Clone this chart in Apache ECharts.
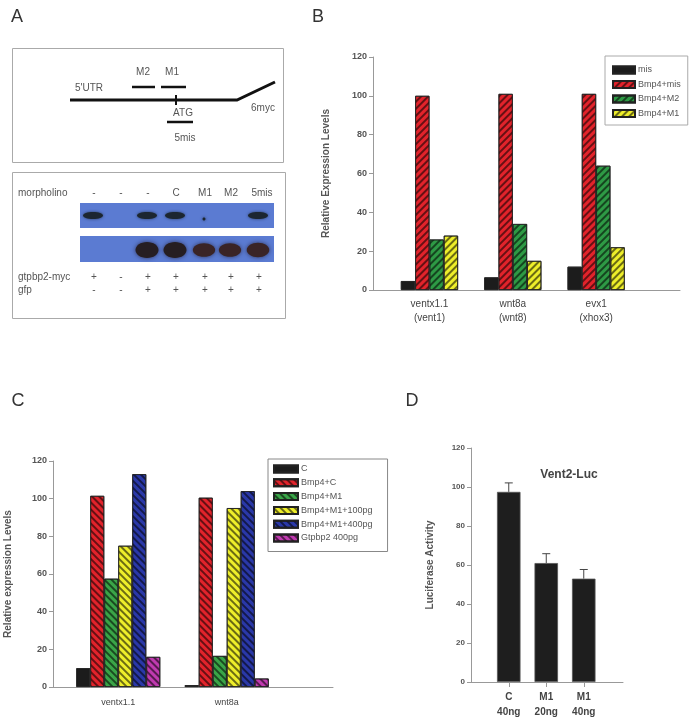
<!DOCTYPE html>
<html><head><meta charset="utf-8">
<script src="https://cdn.jsdelivr.net/npm/echarts@6/dist/echarts.min.js"></script>
<style>
html,body{margin:0;padding:0;background:#fff;}
#wrap{position:relative;width:700px;height:724px;}
.layer{position:absolute;left:0;top:0;width:700px;height:724px;}
</style></head>
<body><div id="wrap">
<div id="cA" class="layer"></div><div id="cB" class="layer"></div>
<div id="cC" class="layer"></div><div id="cD" class="layer"></div>
</div>
<script>
// ---------- DATA ----------
// Panel A (blot annotation)
const morpholinoLabels = ['-', '-', '-', 'C', 'M1', 'M2', '5mis'];
const gtpbp2MycSigns = ['+', '-', '+', '+', '+', '+', '+'];
const gfpSigns = ['-', '-', '+', '+', '+', '+', '+'];
const blotTopBands = [1, 0, 0.9, 0.9, 0.15, 0, 0.9];   // relative band strength
const blotBottomBands = [0, 0, 1, 1, 0.85, 0.85, 0.9];

// Panel B
const catsB = ['ventx1.1\n(vent1)', 'wnt8a\n(wnt8)', 'evx1\n(xhox3)'];
const namesB = ['mis', 'Bmp4+mis', 'Bmp4+M2', 'Bmp4+M1'];
const misB = [4.6, 6.5, 12];
const bmpMisB = [100, 101, 101];
const bmpM2B = [26, 34, 64];
const bmpM1B = [28, 15, 22];

// Panel C
const catsC = ['ventx1.1', 'wnt8a'];
const namesC = ['C', 'Bmp4+C', 'Bmp4+M1', 'Bmp4+M1+100pg', 'Bmp4+M1+400pg', 'Gtpbp2 400pg'];
const cC = [10, 1];
const bmpCC = [101.5, 100.5];
const bmpM1C = [57.5, 16.5];
const bmpM1_100C = [75, 95];
const bmpM1_400C = [113, 104];
const gtpbp2C = [16, 4.5];

// Panel D
const catsD = ['C\n40ng', 'M1\n20ng', 'M1\n40ng'];
const lucD = [97.5, 61, 53];
const errD = [4.6, 4.8, 4.7];

// shared y ticks
const yMin = 0, yMax = 120, yStep = 20;

// ---------- STYLE HELPERS ----------
const FONT = 'Liberation Sans, Arial, sans-serif';
function hatch(rot) {
  return { symbol: 'rect', symbolSize: 1, dashArrayX: [1, 0], dashArrayY: [1.6, 2.4], rotation: rot, color: 'rgba(0,0,0,0.55)' };
}
function yAx(gridIndex, offset, name, nameGap, fs) {
  return {
    type: 'value', gridIndex, min: yMin, max: yMax, interval: yStep, offset,
    name, nameLocation: 'middle', nameGap,
    nameTextStyle: { fontFamily: FONT, fontSize: 10, fontWeight: 'bold', color: '#555' },
    axisLine: { show: true, lineStyle: { color: '#999', width: 1 } },
    axisTick: { show: true, length: 4, lineStyle: { color: '#999' } },
    axisLabel: { fontFamily: FONT, fontSize: fs, fontWeight: 'bold', color: '#555', margin: 6 },
    splitLine: { show: false }
  };
}
function lineAxis(gridIndex) {
  return { type: 'value', gridIndex, min: 0, max: 1, axisLine: { show: true, lineStyle: { color: '#999' } },
    axisTick: { show: false }, axisLabel: { show: false }, splitLine: { show: false } };
}
function hiddenY(gridIndex) { return { type: 'value', gridIndex, min: 0, max: 1, show: false }; }

// ---------- PANEL A ----------
(function () {
  const ch = echarts.init(document.getElementById('cA'), null, { renderer: 'canvas' });
  const laneX = [94, 121, 148, 176, 205, 231, 259];
  const txt = (x, y, s, opts) => Object.assign({ type: 'text', x, y, style: Object.assign({ text: s, fontFamily: FONT, fontSize: 10, fill: '#555', align: 'center', verticalAlign: 'middle' }, opts || {}) });
  const line = (x1, y1, x2, y2, w) => ({ type: 'line', shape: { x1, y1, x2, y2 }, style: { stroke: '#111', lineWidth: w } });
  const els = [];
  els.push(txt(17, 17, 'A', { fontSize: 18, fill: '#333' }));
  els.push({ type: 'rect', shape: { x: 12.5, y: 48.5, width: 271, height: 114 }, style: { fill: 'none', stroke: '#aaa', lineWidth: 1 } });
  els.push({ type: 'rect', shape: { x: 12.5, y: 172.5, width: 273, height: 146 }, style: { fill: 'none', stroke: '#aaa', lineWidth: 1 } });
  els.push({ type: 'polyline', shape: { points: [[70, 100], [237, 100], [275, 82]] }, style: { stroke: '#111', lineWidth: 3, fill: 'none' } });
  els.push(line(132, 87, 155, 87, 2.5), line(161, 87, 186, 87, 2.5), line(176, 95, 176, 105, 2), line(167, 122, 193, 122, 2.5));
  els.push(txt(89, 88, "5'UTR"), txt(143, 72, 'M2'), txt(172, 72, 'M1'), txt(183, 113, 'ATG'), txt(185, 138, '5mis'), txt(263, 108, '6myc'));
  els.push(txt(18, 193, 'morpholino', { align: 'left' }));
  morpholinoLabels.forEach((s, i) => els.push(txt(laneX[i] + (i === 6 ? 3 : 0), 193, s)));
  els.push({ type: 'rect', shape: { x: 80, y: 203, width: 194, height: 25 }, style: { fill: '#5b7bd2' } });
  els.push({ type: 'rect', shape: { x: 80, y: 236, width: 194, height: 26 }, style: { fill: '#5b7bd2' } });
  blotTopBands.forEach((v, i) => {
    if (v <= 0) return;
    const big = v > 0.5;
    els.push({ type: 'ellipse', shape: { cx: laneX[i] - 1, cy: big ? 215.5 : 219, rx: big ? 10 : 1.5, ry: big ? 3.5 : 1.5 },
      style: { fill: '#1c2630', shadowBlur: 3, shadowColor: 'rgba(20,30,40,0.7)' } });
  });
  blotBottomBands.forEach((v, i) => {
    if (v <= 0) return;
    els.push({ type: 'ellipse', shape: { cx: laneX[i] - 1, cy: 250, rx: 11.5 * (0.8 + 0.2 * v), ry: 8 * v },
      style: { fill: v > 0.95 ? '#261e22' : '#3a2426', shadowBlur: 4, shadowColor: 'rgba(30,20,30,0.7)' } });
  });
  els.push(txt(18, 277, 'gtpbp2-myc', { align: 'left' }), txt(18, 290, 'gfp', { align: 'left' }));
  gtpbp2MycSigns.forEach((s, i) => els.push(txt(laneX[i], 277, s)));
  gfpSigns.forEach((s, i) => els.push(txt(laneX[i], 290, s)));
  ch.setOption({ animation: false, graphic: { elements: els } });
})();

// ---------- PANEL B ----------
(function () {
  const ch = echarts.init(document.getElementById('cB'));
  const colorsB = ['#1c1c1c', '#e2232b', '#2e9a45', '#eeee2a'];
  const dataB = [misB, bmpMisB, bmpM2B, bmpM1B];
  ch.setOption({
    animation: false,
    graphic: { elements: [{ type: 'text', x: 318, y: 17, style: { text: 'B', fontFamily: FONT, fontSize: 18, fill: '#333', align: 'center', verticalAlign: 'middle' } }] },
    grid: [{ left: 387.8, width: 250, top: 57, height: 233 }, { left: 373, width: 307, top: 57, height: 233 }],
    xAxis: [{ type: 'category', gridIndex: 0, data: catsB, axisLine: { show: false }, axisTick: { show: false },
      axisLabel: { fontFamily: FONT, fontSize: 10, color: '#444', margin: 7, lineHeight: 14 } }, lineAxis(1)],
    yAxis: [yAx(0, 14.8, 'Relative Expression Levels', 42, 9), hiddenY(1)],
    legend: { orient: 'vertical', left: 605, top: 56, data: namesB, icon: 'rect', itemWidth: 22, itemHeight: 7, itemGap: 5.5,
      padding: [9.5, 7, 7, 7], borderColor: '#aaa', borderWidth: 1,
      textStyle: { fontFamily: FONT, fontSize: 9, color: '#555', padding: [0, 0, 0, -2] } },
    series: namesB.map((n, i) => ({
      name: n, type: 'bar', xAxisIndex: 0, yAxisIndex: 0, data: dataB[i], barWidth: 14.3, barGap: '0%',
      itemStyle: { color: colorsB[i], borderColor: '#222', borderWidth: 0.8, decal: i === 0 ? { symbol: 'none' } : hatch(-Math.PI / 4) }
    }))
  });
})();

// ---------- PANEL C ----------
(function () {
  const ch = echarts.init(document.getElementById('cC'));
  const colorsC = ['#1c1c1c', '#e2232b', '#3aa548', '#eeee2a', '#2a38a8', '#c03ab0'];
  const dataC = [cC, bmpCC, bmpM1C, bmpM1_100C, bmpM1_400C, gtpbp2C];
  ch.setOption({
    animation: false,
    graphic: { elements: [{ type: 'text', x: 18, y: 401, style: { text: 'C', fontFamily: FONT, fontSize: 18, fill: '#333', align: 'center', verticalAlign: 'middle' } }] },
    grid: [{ left: 64, width: 217, top: 461, height: 226 }, { left: 53, width: 280, top: 461, height: 226 }],
    xAxis: [{ type: 'category', gridIndex: 0, data: catsC, axisLine: { show: false }, axisTick: { show: false },
      axisLabel: { fontFamily: FONT, fontSize: 9, color: '#444', margin: 11 } }, lineAxis(1)],
    yAxis: [yAx(0, 11, 'Relative expression Levels', 40, 9), hiddenY(1)],
    legend: { orient: 'vertical', left: 268, top: 459, data: namesC, icon: 'rect', itemWidth: 24, itemHeight: 7, itemGap: 4.8,
      padding: [5.5, 15, 9, 5], borderColor: '#888', borderWidth: 1,
      textStyle: { fontFamily: FONT, fontSize: 9, color: '#555', padding: [0, 0, 0, -2] } },
    series: namesC.map((n, i) => ({
      name: n, type: 'bar', xAxisIndex: 0, yAxisIndex: 0, data: dataC[i], barWidth: 14, barGap: '0%',
      itemStyle: { color: colorsC[i], borderColor: '#222', borderWidth: 0.8, decal: i === 0 ? { symbol: 'none' } : hatch(Math.PI / 4) }
    }))
  });
})();

// ---------- PANEL D ----------
(function () {
  const ch = echarts.init(document.getElementById('cD'));
  ch.setOption({
    animation: false,
    graphic: { elements: [{ type: 'text', x: 412, y: 401, style: { text: 'D', fontFamily: FONT, fontSize: 18, fill: '#333', align: 'center', verticalAlign: 'middle' } }] },
    title: { text: 'Vent2-Luc', left: 564, top: 464, textAlign: 'center',
      textStyle: { fontFamily: FONT, fontSize: 12, fontWeight: 'bold', color: '#444' } },
    grid: [{ left: 490, width: 112.5, top: 448, height: 234 }, { left: 471, width: 152, top: 448, height: 234 }],
    xAxis: [{ type: 'category', gridIndex: 0, data: catsD, axisLine: { show: false },
      axisTick: { show: true, alignWithLabel: true, length: 5, lineStyle: { color: '#999' } },
      axisLabel: { fontFamily: FONT, fontSize: 10, fontWeight: 'bold', color: '#444', margin: 8, lineHeight: 15 } }, lineAxis(1)],
    yAxis: [yAx(0, 19, 'Luciferase Activity', 36, 8), hiddenY(1)],
    series: [
      { type: 'bar', xAxisIndex: 0, yAxisIndex: 0, data: lucD, barWidth: 23.5,
        itemStyle: { color: '#1e1e1e', borderColor: '#555', borderWidth: 0.8 } },
      { type: 'custom', xAxisIndex: 0, yAxisIndex: 0, z: 5,
        data: lucD.map((v, i) => [i, v, v + errD[i]]),
        renderItem: function (params, api) {
          const p0 = api.coord([api.value(0), api.value(1)]);
          const p1 = api.coord([api.value(0), api.value(2)]);
          return { type: 'group', children: [
            { type: 'line', shape: { x1: p0[0], y1: p0[1], x2: p1[0], y2: p1[1] }, style: { stroke: '#444', lineWidth: 1 } },
            { type: 'line', shape: { x1: p1[0] - 4, y1: p1[1], x2: p1[0] + 4, y2: p1[1] }, style: { stroke: '#444', lineWidth: 1 } }
          ] };
        } }
    ]
  });
})();
</script>
</body></html>
